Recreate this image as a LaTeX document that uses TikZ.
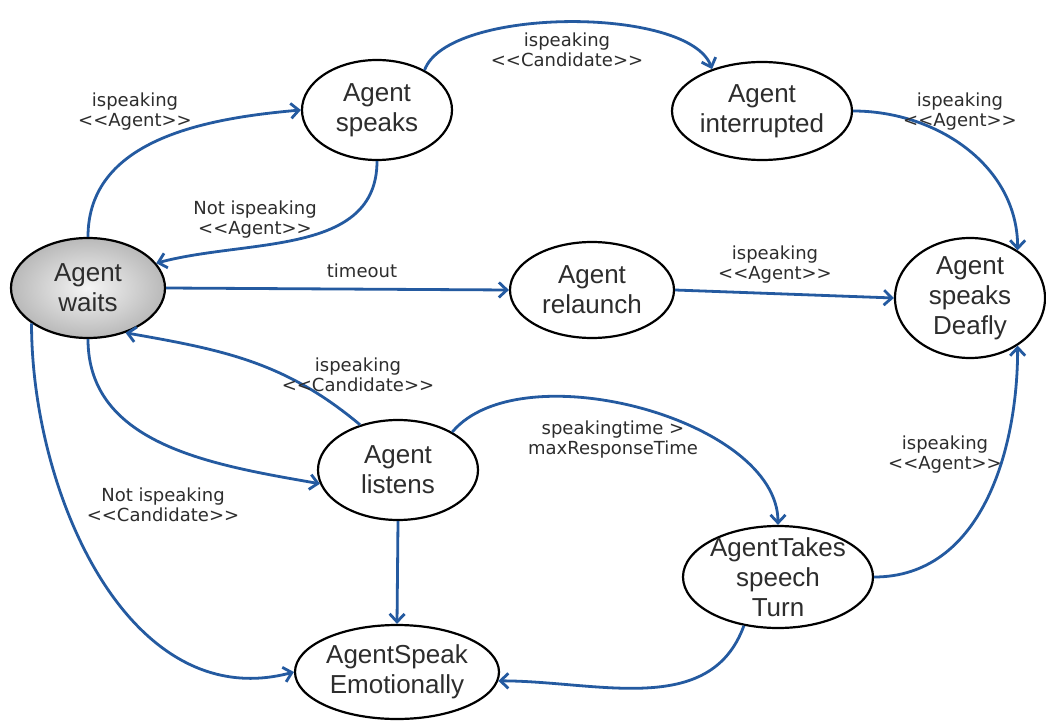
\documentclass[tikz,border=0pt]{standalone}
\usepackage{fontspec}
\setmainfont{Liberation Sans}
\newfontfamily\lblfont{DejaVu Sans}
\usetikzlibrary{shapes.geometric,arrows.meta}
\definecolor{edgeblue}{RGB}{36,90,160}
\definecolor{txtgray}{RGB}{45,45,45}
\begin{document}
\begin{tikzpicture}[x=1pt, y=1pt, >={Straight Barb[length=8pt,width=15pt]},
  state/.style={ellipse, draw=black, line width=2.2pt, fill=white, inner sep=0pt, align=center, text=txtgray, font=\fontsize{26}{30}\selectfont},
  lbl/.style={align=center, text=txtgray, font=\lblfont\fontsize{18}{20}\selectfont},
  edge/.style={->, draw=edgeblue, line width=2.8pt}]
\useasboundingbox[fill=white] (0,0) rectangle (1046,-727);

\node[state, minimum width=154pt, minimum height=100pt, inner color=gray!8, outer color=gray!55] (waits) at (88,-288) {Agent\\waits};
\node[state, minimum width=150pt, minimum height=100pt] (speaks) at (377,-110) {Agent\\speaks};
\node[state, minimum width=180pt, minimum height=98pt] (interrupted) at (762,-111) {Agent\\interrupted};
\node[state, minimum width=164pt, minimum height=96pt] (relaunch) at (592,-290) {Agent\\relaunch};
\node[state, minimum width=150pt, minimum height=120pt] (deafly) at (970,-298) {Agent\\speaks\\Deafly};
\node[state, minimum width=160pt, minimum height=100pt] (listens) at (398,-470) {Agent\\listens};
\node[state, minimum width=190pt, minimum height=102pt, inner xsep=-4pt, inner ysep=-6pt] (takes) at (778,-577) {AgentTakes\\speech\\Turn};
\node[state, minimum width=204pt, minimum height=94pt] (emotionally) at (397,-672) {AgentSpeak\\Emotionally};

\draw[edge] (waits.north) to[out=90, in=185] (speaks.west);
\draw[edge] (speaks.south) to[out=-90, in=15] (waits.20);
\draw[edge] (speaks.40) to[out=70, in=110, looseness=0.6] (interrupted.140);
\draw[edge] (interrupted.east) to[out=0, in=90] (deafly.45);
\draw[edge] (waits.east) -- (relaunch.west);
\draw[edge] (relaunch.east) -- (deafly.west);
\draw[edge] (waits.south) to[out=-90, in=170] (listens.190);
\draw[edge] (listens.130) to[out=140, in=-10] (waits.-50);
\draw[edge] (waits.-148) to[out=-90, in=195] (emotionally.west);
\draw[edge] (listens.south) -- (emotionally.north);
\draw[edge] (listens.35) to[out=50, in=90, looseness=0.8] (takes.north);
\draw[edge] (takes.235) to[out=-110, in=0] (emotionally.-5);
\draw[edge] (takes.east) to[out=0, in=-90] (deafly.-45);

\node[lbl] (lspeak) at (135,-112) {ispeaking\\<<Agent>>};
\node[lbl] (lnotspeak) at (255,-220) {Not ispeaking\\<<Agent>>};
\node[lbl] (linterr) at (567,-50) {ispeaking\\<<Candidate>>};
\node[lbl] (ldeaf) at (960,-112) {ispeaking\\<<Agent>>};
\node[lbl] (ltimeout) at (362,-271) {timeout};
\node[lbl] (lrelaunch) at (775,-265) {ispeaking\\<<Agent>>};
\node[lbl] (lcand) at (358,-375) {ispeaking\\<<Candidate>>};
\node[lbl] (lmaxtime) at (613,-440) {speakingtime >\\maxResponseTime};
\node[lbl] (lnotcand) at (163,-505) {Not ispeaking\\<<Candidate>>};
\node[lbl] (lturn) at (945,-455) {ispeaking\\<<Agent>>};
\end{tikzpicture}
\end{document}
